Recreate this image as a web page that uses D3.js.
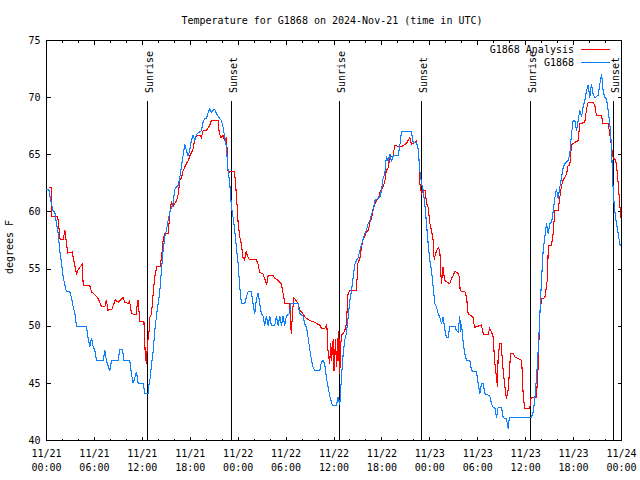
<!DOCTYPE html>
<html><head><meta charset="utf-8">
<script src="https://cdn.jsdelivr.net/npm/d3@7"></script>
<style>
body{margin:0;background:#fff}
svg{display:block}
text{font-family:"DejaVu Sans Mono","Liberation Mono",monospace;font-size:10px;fill:#000}
</style>
</head><body><svg id="c" width="640" height="480"></svg>
<script>
// ---------- data ----------
const chartTitle = "Temperature for G1868 on 2024-Nov-21 (time in UTC)";
const yLabel = "degrees F";
const seriesNames = ["G1868 Analysis", "G1868"];
const seriesColors = ["#ff0000", "#0a80ff"];
const yTicks = [40, 45, 50, 55, 60, 65, 70, 75];
const sunEventHours = [12.6, 23.05, 36.63, 46.95, 60.6, 70.95];
const sunEventLabels = ["Sunrise", "Sunset", "Sunrise", "Sunset", "Sunrise", "Sunset"];

// hours since 2024-11-21 00:00 UTC
const analysisHours = [0.3,0.6,0.65,1.4,1.5,1.7,2.1,2.3,2.65,3.2,3.5,3.75,4.0,4.45,4.6,5.4,5.65,6.0,6.5,6.9,7.3,7.5,7.7,8.2,8.6,9.0,9.6,9.8,10.2,10.4,10.65,11.2,11.45,11.7,12.2,12.35,12.5,12.65,12.85,12.95,13.15,13.35,13.55,13.8,14.2,14.4,14.6,14.8,15.25,15.45,15.65,15.85,16.3,16.5,16.7,16.9,17.1,17.5,17.75,17.95,18.35,18.55,18.8,19.2,19.4,19.6,20.0,20.45,20.65,21.5,21.6,21.8,22.1,22.3,22.55,22.75,22.95,23.55,23.8,24.0,24.2,24.4,24.6,24.8,25.0,25.25,25.45,26.3,26.5,26.7,27.1,27.35,27.55,27.75,28.4,28.6,29.0,29.4,29.65,29.85,30.45,30.65,30.8,30.95,31.2,31.5,31.7,32.1,32.35,32.95,33.4,34.2,34.45,34.85,35.1,35.25,35.45,35.6,35.7,35.9,36.0,36.2,36.3,36.45,36.5,36.6,36.72,36.85,37.0,37.2,37.35,37.55,37.75,37.95,38.8,39.0,39.25,39.45,39.65,40.05,40.3,40.5,40.7,40.9,41.3,41.55,41.75,42.15,42.35,42.55,42.8,43.0,43.4,43.6,44.45,44.65,45.1,45.3,45.5,45.7,46.3,46.55,46.65,46.75,46.95,47.15,47.4,47.6,47.8,48.0,48.2,48.4,48.55,48.7,48.85,49.05,49.25,49.45,49.65,49.85,50.1,50.5,50.7,50.9,51.15,51.55,51.7,51.8,52.4,52.6,52.8,53.2,53.4,53.6,54.45,54.7,55.3,55.5,55.9,56.15,56.35,56.47,56.55,56.75,56.95,57.1,57.4,57.6,57.8,57.95,58.1,58.45,58.65,59.3,59.5,59.6,59.7,59.9,60.5,60.7,61.35,61.55,61.77,61.98,62.4,62.6,62.7,62.85,63.24,63.44,63.65,64.07,64.28,64.49,64.7,65.11,65.32,65.53,65.74,66.57,66.78,67.41,67.62,67.83,68.45,68.66,68.87,69.5,69.7,70.33,70.54,70.75,70.96,71.17,71.37,71.58,71.79,71.92];
const analysisTemps = [62.1,62.1,59.6,59.6,59.0,57.6,57.6,58.4,56.4,56.5,55.5,54.6,55.0,55.4,53.6,53.6,53.0,52.8,52.4,51.7,51.7,52.3,51.4,51.5,52.3,52.1,52.5,52.1,52.0,52.2,51.1,51.0,52.3,50.4,50.4,47.8,46.7,48.5,49.6,50.8,51.1,52.8,54.3,55.2,55.2,56.0,57.5,58.1,58.1,60.0,60.9,60.5,61.0,61.6,62.8,63.0,63.6,64.2,64.5,64.9,65.5,66.3,66.7,66.7,66.5,67.1,67.1,67.6,68.0,68.0,67.1,66.5,66.7,66.3,66.5,63.3,63.5,63.5,61.3,59.0,57.8,57.2,56.0,55.8,56.5,56.0,55.8,55.8,55.4,54.7,54.6,54.1,53.6,54.4,54.4,54.2,54.0,53.7,52.8,52.0,52.0,49.3,51.1,52.5,52.3,52.0,51.4,51.1,50.8,50.5,50.4,50.1,49.8,49.8,50.1,47.9,46.7,48.5,47.0,48.9,46.1,48.9,46.4,49.0,47.0,49.6,45.8,48.5,49.3,49.4,49.6,50.2,52.8,53.1,53.1,55.5,56.0,56.9,57.6,58.2,58.4,59.1,59.4,60.3,61.0,61.15,61.7,62.2,62.6,63.6,63.9,64.8,64.9,65.8,65.7,65.8,66.0,66.3,66.5,65.9,66.2,65.5,64.5,62.5,61.6,61.9,61.9,60.7,60.4,59.0,58.4,57.6,55.8,56.3,56.6,56.9,56.6,53.7,55.2,54.0,53.9,53.7,54.15,54.4,54.8,54.6,54.3,53.1,53.0,52.5,51.1,50.9,50.8,49.9,50.1,49.3,49.3,49.8,49.2,46.7,45.5,44.7,47.3,48.5,48.5,46.7,44.7,43.65,44.4,45.8,47.6,47.6,47.3,47.1,47.0,45.5,43.8,42.8,42.8,43.8,43.8,46.3,51.0,52.4,52.5,53.5,54.0,57.1,57.1,58.1,60.1,60.1,61.3,62.3,62.8,63.3,64.1,64.1,65.9,66.25,67.7,67.85,69.0,69.6,69.6,69.3,68.4,68.4,67.7,67.7,66.8,65.7,64.7,64.6,64.2,62.5,60.6,59.5];

const obsHours = [0,0.33,0.5,0.83,1.04,1.25,1.46,1.67,1.88,2.09,2.3,2.5,2.92,3.13,3.34,3.55,3.76,5.0,5.2,5.43,5.63,5.84,6.05,6.26,7.1,7.3,7.5,7.93,8.14,8.97,9.18,9.52,9.68,10.43,10.64,10.85,11.27,11.48,12.1,12.31,12.72,12.85,13.0,13.14,13.35,13.56,13.77,13.98,14.18,14.39,14.6,14.81,15.02,15.23,15.44,15.85,16.06,16.48,16.69,16.9,17.31,17.52,17.73,17.94,18.15,18.36,18.57,18.78,19.4,19.61,19.82,20.03,20.24,20.44,20.65,20.86,21.07,21.28,21.7,21.91,22.11,22.32,22.53,22.61,22.74,22.95,23.16,23.37,23.57,23.78,23.99,24.2,24.41,24.83,25.04,25.24,25.66,25.87,26.08,26.29,26.5,26.7,26.91,27.12,27.33,27.54,27.75,27.96,28.16,28.58,28.79,29.0,29.21,29.42,29.63,29.83,30.04,30.46,30.54,31.5,31.71,32.13,32.34,32.55,32.76,32.96,33.17,33.38,33.59,34.22,34.43,34.63,34.84,35.05,35.26,35.47,35.8,36.3,36.51,36.72,36.93,37.14,37.35,37.56,37.77,37.98,38.19,38.4,38.61,38.82,39.03,39.23,39.44,39.65,39.86,40.07,40.28,40.49,40.7,40.9,41.11,41.74,41.95,42.16,42.36,42.57,42.78,42.99,43.2,43.41,44.03,44.24,44.45,45.7,45.91,46.33,46.54,46.75,46.96,47.16,47.37,47.58,47.79,48.0,48.21,48.42,48.62,48.83,49.04,49.25,49.46,49.67,49.88,50.09,50.3,50.5,51.13,51.34,51.55,51.75,51.84,51.96,52.17,52.38,52.59,53.01,53.22,53.84,54.05,54.26,54.47,54.68,54.88,55.51,55.72,55.93,56.14,56.35,56.55,56.97,57.18,57.6,57.81,57.93,58.1,60.73,60.94,61.15,61.36,61.57,61.77,61.98,62.19,62.4,62.61,62.82,63.03,63.24,63.44,63.65,63.86,64.07,64.28,64.49,64.7,64.9,65.32,65.53,65.74,65.95,66.16,66.37,66.57,66.78,66.99,67.2,67.41,67.62,67.83,68.03,68.24,68.45,68.66,69.08,69.29,69.5,69.7,69.91,70.12,70.33,70.54,70.75,70.87,70.96,71.08,71.25,71.37,71.58,71.79,71.92];
const obsTemps = [62.0,61.9,61.1,60.1,60.0,59.0,58.1,56.6,55.5,54.3,53.6,53.0,53.0,52.5,51.7,51.1,50.0,50.0,49.0,48.2,49.0,48.2,47.9,47.0,47.0,47.9,47.0,46.1,47.0,47.0,48.0,48.0,47.0,47.0,45.8,45.0,46.0,45.0,45.0,44.1,44.1,45.0,45.5,46.6,47.8,49.6,50.9,52.0,53.0,54.9,56.6,57.8,58.4,59.25,60.0,60.7,62.0,62.3,63.0,64.0,65.9,65.4,64.9,65.4,66.3,66.7,66.25,66.8,67.1,67.9,68.15,68.15,68.7,69.0,68.7,68.9,69.0,68.6,68.15,68.0,67.4,66.5,65.7,64.8,63.6,62.5,60.4,59.5,58.4,56.9,55.5,53.4,52.0,52.0,52.6,53.0,53.0,51.9,51.1,52.4,52.9,52.0,51.1,50.9,50.06,50.9,50.06,50.9,50.06,50.06,50.9,50.06,50.9,50.06,50.9,50.06,50.9,51.1,52.0,52.0,51.1,50.9,50.2,49.9,49.0,48.0,47.1,46.4,46.1,46.1,46.9,47.0,46.7,45.5,44.7,43.9,43.07,43.07,43.8,43.07,45.5,47.5,48.8,49.4,50.8,52.2,53.1,54.3,55.4,55.75,56.0,56.6,57.1,57.65,58.1,58.4,59.0,59.25,59.8,60.1,61.0,61.3,61.9,63.0,63.3,64.9,64.4,65.1,64.4,64.9,64.9,65.8,67.0,67.0,66.1,66.1,65.5,63.6,62.5,61.9,60.7,59.0,57.2,55.75,54.9,53.4,52.0,51.7,51.1,50.8,50.2,50.8,49.7,49.0,49.0,50.0,50.0,49.6,49.5,50.9,49.5,50.2,48.6,47.6,47.0,47.0,46.1,46.0,45.0,44.1,45.0,45.0,44.1,43.9,43.2,42.9,42.9,42.0,42.9,42.9,42.0,41.9,41.0,41.9,42.05,42.05,42.5,43.7,45.5,47.9,50.9,54.0,56.6,57.8,59.0,58.1,59.0,59.1,60.0,61.2,62.0,61.15,62.2,63.0,63.9,64.2,64.5,65.1,66.8,68.0,68.0,67.1,68.0,68.9,68.3,69.2,69.75,70.6,71.1,70.0,71.2,70.3,70.0,70.2,71.2,72.1,70.6,70.0,69.9,68.9,67.7,65.7,63.3,61.9,60.7,59.5,59.0,58.1,57.2,57.0];

// ---------- chart ----------
const svg = d3.select("#c");
const start = new Date(Date.UTC(2024, 10, 21, 0, 0));
const end = new Date(Date.UTC(2024, 10, 24, 0, 0));
const toDate = h => new Date(start.getTime() + h * 3600e3);

const x = d3.scaleUtc().domain([start, end]).range([46.5, 621.5]);
const y = d3.scaleLinear().domain([40, 75]).range([440.5, 40.5]);

// title
svg.append("text").attr("x", 332).attr("y", 24).attr("text-anchor", "middle").text(chartTitle);
// y label
svg.append("text").attr("transform", "translate(13,247) rotate(-90)").attr("text-anchor", "middle").text(yLabel);

const minorTicks = d3.utcHour.every(2).range(start, d3.utcHour.offset(end, 1));
const majorTicks = d3.utcHour.every(6).range(start, d3.utcHour.offset(end, 1));

function styleAxis(g) {
  g.select(".domain").remove();
  g.selectAll(".tick line").attr("stroke", "#000").attr("shape-rendering", "crispEdges");
  g.selectAll("text").style("font-family", '"DejaVu Sans Mono",monospace').style("font-size", "10px").attr("fill", "#000");
}

// bottom / top ticks
svg.append("g").attr("transform", `translate(0,${y(40)})`)
  .call(d3.axisBottom(x).tickValues(minorTicks).tickSize(-2).tickFormat("").offset(0)).call(styleAxis);
svg.append("g").attr("transform", `translate(0,${y(40)})`)
  .call(d3.axisBottom(x).tickValues(majorTicks).tickSize(-4).tickFormat("").offset(0)).call(styleAxis);
svg.append("g").attr("transform", `translate(0,${y(75)})`)
  .call(d3.axisTop(x).tickValues(minorTicks).tickSize(-2).tickFormat("").offset(0)).call(styleAxis);
svg.append("g").attr("transform", `translate(0,${y(75)})`)
  .call(d3.axisTop(x).tickValues(majorTicks).tickSize(-4).tickFormat("").offset(0)).call(styleAxis);

// x labels (two lines)
const fmtDay = d3.utcFormat("%m/%d"), fmtTime = d3.utcFormat("%H:%M");
const xl = svg.append("g").selectAll("text").data(majorTicks).join("text")
  .attr("text-anchor", "middle");
xl.append("tspan").attr("x", d => x(d)).attr("y", 456.5).text(fmtDay);
xl.append("tspan").attr("x", d => x(d)).attr("y", 470.5).text(fmtTime);

// y axes
svg.append("g").attr("transform", `translate(${x(start)},0)`)
  .call(d3.axisLeft(y).tickValues(yTicks).tickSize(-4).tickPadding(6).offset(0)).call(styleAxis);
svg.append("g").attr("transform", `translate(${x(end)},0)`)
  .call(d3.axisRight(y).tickValues(yTicks).tickSize(-4).tickFormat("").offset(0)).call(styleAxis);

// border
svg.append("rect").attr("x", x(start)).attr("y", y(75)).attr("width", x(end) - x(start)).attr("height", y(40) - y(75))
  .attr("fill", "none").attr("stroke", "#000").attr("shape-rendering", "crispEdges");

// sunrise / sunset lines
const sun = svg.append("g").selectAll("g").data(sunEventHours.map((h, i) => ({ h, label: sunEventLabels[i] }))).join("g");
sun.append("line")
  .attr("x1", d => Math.round(x(toDate(d.h))) + 0.5).attr("x2", d => Math.round(x(toDate(d.h))) + 0.5)
  .attr("y1", y(69.75)).attr("y2", y(40)).attr("stroke", "#000").attr("shape-rendering", "crispEdges");
sun.append("text")
  .attr("transform", d => `translate(${Math.round(x(toDate(d.h))) + 5.5},${y(70.4)}) rotate(-90)`)
  .attr("text-anchor", "start").text(d => d.label);

// series
const line = d3.line().x(d => x(toDate(d[0]))).y(d => y(d[1]));
const anaData = analysisHours.map((h, i) => [h, analysisTemps[i]]);
const obsData = obsHours.map((h, i) => [h, obsTemps[i]]);
[anaData, obsData].forEach((data, i) => {
  svg.append("path").datum(data).attr("d", line).attr("fill", "none")
    .attr("stroke", seriesColors[i]).attr("stroke-width", 1.1).attr("stroke-linejoin", "miter")
    .attr("shape-rendering", "crispEdges");
});

// legend
const leg = svg.append("g");
seriesNames.forEach((name, i) => {
  const ly = 49 + i * 13.3;
  leg.append("text").attr("x", 574).attr("y", ly + 3.8).attr("text-anchor", "end").text(name);
  leg.append("line").attr("x1", 581).attr("x2", 610).attr("y1", Math.round(ly) + 0.5).attr("y2", Math.round(ly) + 0.5)
    .attr("stroke", seriesColors[i]).attr("stroke-width", 1).attr("shape-rendering", "crispEdges");
});
</script>
</body></html>
